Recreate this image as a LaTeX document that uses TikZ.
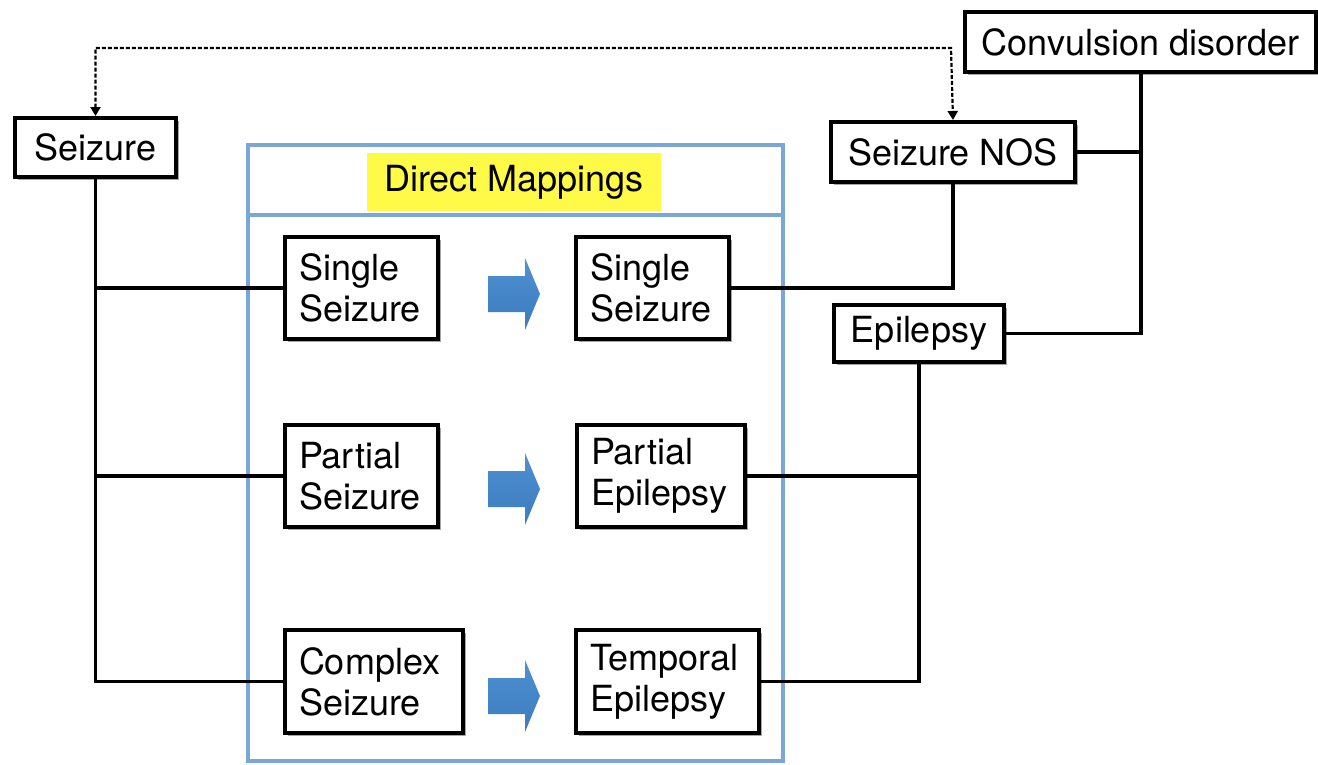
\documentclass[tikz,border=0pt]{standalone}
\usepackage{fontspec}
\setmainfont{TeX Gyre Heros}
\usetikzlibrary{arrows.meta,shadows}
\definecolor{frameblue}{RGB}{122,167,214}
\definecolor{hiyellow}{RGB}{255,250,72}
\definecolor{arrowtop}{RGB}{78,144,210}
\definecolor{arrowbot}{RGB}{60,124,190}
\tikzset{
  lbl/.style={font=\fontsize{36}{41}\selectfont},
  box/.style={lbl, draw=black, line width=4pt, fill=white, inner sep=0pt,
    anchor=north west,
    drop shadow={shadow xshift=2.5pt, shadow yshift=-3pt, opacity=0.35, fill=black}},
  twoline/.style={box, inner xsep=14pt, align=left},
  conn/.style={line width=3.4pt, draw=black},
  dashconn/.style={line width=2.2pt, dash pattern=on 4pt off 2pt,
    {Triangle[width=10pt,length=9pt]}-{Triangle[width=10pt,length=9pt]}},
  container/.style={draw=frameblue, line width=3.5pt, fill=none, anchor=north west, inner sep=0pt},
  bluearrow/.style={top color=arrowtop, bottom color=arrowbot, draw=none}
}
\begin{document}
\begin{tikzpicture}[x=1pt,y=-1pt]
\useasboundingbox (0,0) rectangle (1318,764);
% container
\node[container, minimum width=535pt, minimum height=616pt] (dm) at (246,143) {};
\draw[draw=frameblue, line width=3.5pt] (dm.west |- 0,215) -- (dm.east |- 0,215);
\node[lbl, fill=hiyellow, minimum width=294pt, minimum height=58pt, inner sep=0pt] (title) at (514,182) {Direct Mappings};
% top nodes
\node[box, minimum width=161pt, minimum height=59pt] (seiz) at (13,116) {Seizure};
\node[box, minimum width=351pt, minimum height=60pt] (conv) at (963,10) {Convulsion disorder};
\node[box, minimum width=244pt, minimum height=60pt] (nos) at (829,120) {Seizure NOS};
\node[box, minimum width=170pt, minimum height=57pt] (epi) at (832,303) {Epilepsy};
% inner nodes
\node[twoline, text width=125pt, minimum height=102pt] (ss1) at (283,235) {Single\\Seizure};
\node[twoline, text width=125pt, minimum height=102pt] (ss2) at (574,235) {Single\\Seizure};
\node[twoline, text width=125pt, minimum height=102pt] (ps) at (283,423) {Partial\\Seizure};
\node[twoline, text width=140pt, minimum height=102pt] (pe) at (575,423) {Partial\\Epilepsy};
\node[twoline, text width=150pt, minimum height=103pt] (cs) at (283,628) {Complex\\Seizure};
\node[twoline, text width=155pt, minimum height=103pt] (te) at (574,628) {Temporal\\Epilepsy};
% blue arrows
\foreach \yy in {294,489,696}{
  \path[bluearrow] (488,\yy-18) -- (525,\yy-18) -- (525,\yy-36) -- (540,\yy)
    -- (525,\yy+36) -- (525,\yy+18) -- (488,\yy+18) -- cycle;
}
% left tree
\draw[conn] (seiz.south) |- (cs.west);
\draw[conn] (seiz.south |- ss1.west) -- (ss1.west);
\draw[conn] (seiz.south |- ps.west) -- (ps.west);
% right tree
\draw[conn] (ss2.east) -| (nos.south);
\coordinate (cx) at (1141,0);
\draw[conn] (cx |- conv.south) |- (epi.east);
\draw[conn] (nos.east) -- (nos.east -| cx);
\draw[conn] (te.east) -| (epi.south);
\draw[conn] (pe.east) -- (pe.east -| epi.south);
% dashed
\coordinate (dtop) at (951,48);
\draw[dashconn] (seiz.north) |- (dtop) -- (nos.north);
\end{tikzpicture}
\end{document}
